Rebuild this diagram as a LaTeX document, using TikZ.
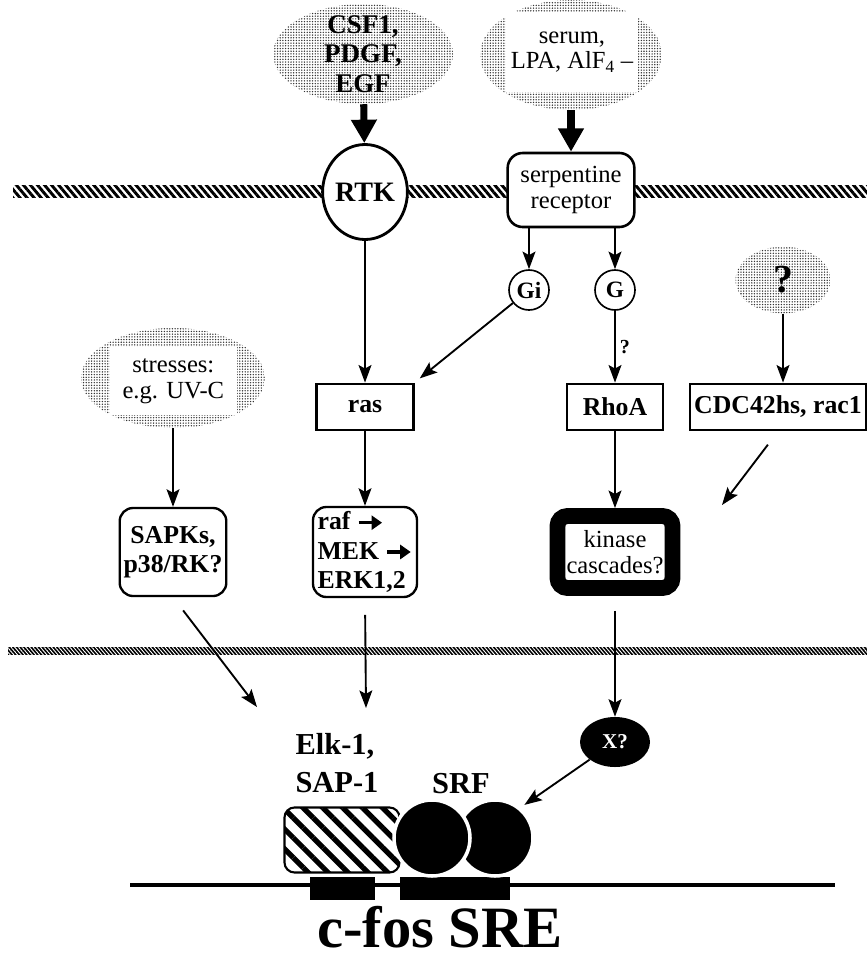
\documentclass[tikz,border=0pt]{standalone}
\usepackage{fontspec}
\setmainfont{Liberation Serif}
\usetikzlibrary{shapes,arrows.meta,patterns.meta,calc}

\newcommand{\boldlabel}{\fontsize{22}{25}\selectfont\bfseries}
\newcommand{\plainlabel}{\fontsize{21}{22}\selectfont}
\newcommand{\rafarrow}{\tikz[baseline=-0.6ex]\draw[line width=2.8pt,-{Triangle[length=9pt,width=12pt]}] (0,0) -- (20pt,0);}

\tikzstyle{cloud} = [ellipse, pattern={Dots[radius=0.65pt, distance=2.3pt]}, pattern color=black!80, inner sep=0pt]
\tikzstyle{cloudtext} = [rectangle, fill=white, inner sep=4pt, align=center, font=\plainlabel]
\tikzstyle{receptor} = [ellipse, draw, line width=2.4pt, fill=white, minimum width=2.4cm, minimum height=2.85cm, inner sep=0pt, font=\fontsize{24}{24}\selectfont\bfseries]
\tikzstyle{serpbox} = [rectangle, draw, line width=2.2pt, rounded corners=0.45cm, fill=white, minimum width=3.8cm, minimum height=2.22cm, align=center, font=\plainlabel]
\tikzstyle{gprot} = [circle, draw, line width=1.4pt, minimum size=1.2cm, inner sep=0pt, font=\fontsize{20}{20}\selectfont\bfseries]
\tikzstyle{block} = [rectangle, draw, line width=1.8pt, minimum height=1.4cm, font=\boldlabel]
\tikzstyle{roundblock} = [rectangle, draw, line width=2pt, rounded corners=0.4cm, minimum width=3.15cm, minimum height=2.64cm, font=\boldlabel]
\tikzstyle{kinaseblock} = [rectangle, draw, line width=13.5pt, rounded corners=0.3cm, fill=white, minimum width=3.45cm, minimum height=2.16cm, align=center, font=\plainlabel]
\tikzstyle{arrow} = [line width=1.6pt, -{Stealth[length=15pt, width=11pt, inset=3pt]}]
\tikzstyle{bigarrow} = [line width=6pt, -{Triangle[length=20pt, width=21pt]}]

\begin{document}
\begin{tikzpicture}
\useasboundingbox (0,0) rectangle (26.01,-28.86);

% membranes
\fill[white] (0.39,-5.55) rectangle (26.01,-5.91);
\fill[pattern={Lines[angle=-50, distance=4.6pt, line width=2.5pt]}] (0.39,-5.55) rectangle (26.01,-5.91);
\fill[black] (0.24,-19.41) rectangle (26.01,-19.65);
\fill[pattern={Lines[angle=-50, distance=2.4pt, line width=0.8pt]}, pattern color=white] (0.24,-19.41) rectangle (26.01,-19.65);

% outside signals
\node[cloud, minimum width=5.4cm, minimum height=3cm] (cloudGF) at (10.89,-1.62) {};
\node[align=center, font=\fontsize{23}{25}\selectfont\bfseries] (labelGF) at (cloudGF) {CSF1,\\PDGF,\\EGF};
\node[cloud, minimum width=5.46cm, minimum height=3.3cm] (cloudSerum) at (17.13,-1.65) {};
\node[cloudtext, minimum width=3.9cm, minimum height=2.4cm] (labelSerum) at (17.16,-1.56) {serum,\\LPA, AlF\textsubscript{4} –};

% receptors
\node[receptor] (RTK) at (10.95,-5.76) {RTK};
\node[serpbox] (serp) at (17.13,-5.7) {serpentine\\receptor};
\draw[bigarrow] (cloudGF) -- (RTK);
\draw[bigarrow] (cloudSerum) -- (serp);

\node[gprot] (Gi) at (15.87,-8.7) {Gi};
\node[gprot] (G) at (18.45,-8.7) {G};
\draw[arrow] (serp.south -| Gi) -- (Gi);
\draw[arrow] (serp.south -| G) -- (G);

% second row
\node[cloud, minimum width=5.52cm, minimum height=3cm] (cloudStress) at (5.19,-11.34) {};
\node[cloudtext, minimum width=3.81cm, minimum height=2.04cm] (labelStress) at (5.2,-11.43) {stresses:\\e.g. UV-C};
\node[block, minimum width=2.91cm, below of=RTK, node distance=6.45cm] (ras) {ras};
\node[block, minimum width=2.88cm, below of=G, node distance=3.51cm] (RhoA) {RhoA};
\node[cloud, minimum width=2.85cm, minimum height=2cm] (cloudQ) at (23.49,-8.4) {};
\node[font=\fontsize{34}{34}\selectfont\bfseries] (labelQ) at (cloudQ) {?};
\node[block, minimum width=5.28cm] (CDC42) at (23.34,-12.21) {CDC42hs, rac1};

% third row
\node[roundblock, align=center, below of=cloudStress, node distance=5.22cm] (SAPKs) {SAPKs,\\p38/RK?};
\node[roundblock, minimum width=3.12cm, minimum height=2.7cm, align=left, below of=ras, node distance=4.35cm] (raf) {raf \rafarrow\\MEK \rafarrow\\ERK1,2};
\node[kinaseblock, below of=RhoA, node distance=4.35cm] (kinase) {kinase\\cascades?};
\node[ellipse, fill=black, text=white, minimum width=2.1cm, minimum height=1.5cm, inner sep=0pt, font=\fontsize{18}{18}\selectfont\bfseries, below of=kinase, node distance=5.7cm] (X) {X?};

\draw[arrow] (RTK.south -| ras) -- (ras);
\draw[arrow, shorten >=0.2cm] (Gi) -- (ras.north east);
\draw[arrow] (G) -- node[right, font=\fontsize{17}{17}\selectfont\bfseries] {?} (RhoA);
\draw[arrow] (cloudQ) -- (cloudQ |- CDC42.north);
\draw[arrow] (cloudStress) -- (SAPKs);
\draw[arrow] (ras) -- (raf);
\draw[arrow] (RhoA) -- (kinase);

% nucleus
\coordinate (cdcTip) at (21.66,-15.15);
\coordinate (sapkTip) at (7.71,-21.21);
\coordinate (rafTip) at (10.98,-21.24);
\draw[arrow, shorten <=0.5cm] (CDC42.south) -- (cdcTip);
\draw[arrow, shorten <=0.5cm] (SAPKs.south) -- (sapkTip);
\draw[arrow, shorten <=0.5cm] (raf.south) -- (rafTip);
\draw[arrow, shorten <=0.45cm] (kinase.south) -- (X);

% promoter
\draw[line width=3pt] (3.9,-26.55) -- (25.05,-26.55);
\fill (9.3,-26.31) rectangle (11.25,-27.0);
\fill (12.0,-26.31) rectangle (15.3,-27.0);
\node[rectangle, draw, line width=1.8pt, rounded corners=0.3cm, fill=white, pattern={Lines[angle=-45, distance=12pt, line width=4.5pt]}, minimum width=3.45cm, minimum height=1.95cm] (elk) at (10.26,-25.2) {};
\node[circle, fill=black, draw=white, line width=3pt, minimum size=2.28cm] (srfB) at (14.85,-25.14) {};
\node[circle, fill=black, draw=white, line width=3pt, minimum size=2.28cm] (srfA) at (12.96,-25.14) {};
\draw[arrow, shorten >=4pt] (X) -- (srfB.50);

\node[align=left, font=\fontsize{26}{33}\selectfont\bfseries] (labelElk) at (10.11,-22.89) {Elk-1,\\SAP-1};
\node[font=\fontsize{26}{26}\selectfont\bfseries] (labelSRF) at (13.83,-23.52) {SRF};
\node[font=\fontsize{50}{50}\selectfont\bfseries] (labelSRE) at (13.2,-27.8) {c-fos SRE};
\end{tikzpicture}
\end{document}
